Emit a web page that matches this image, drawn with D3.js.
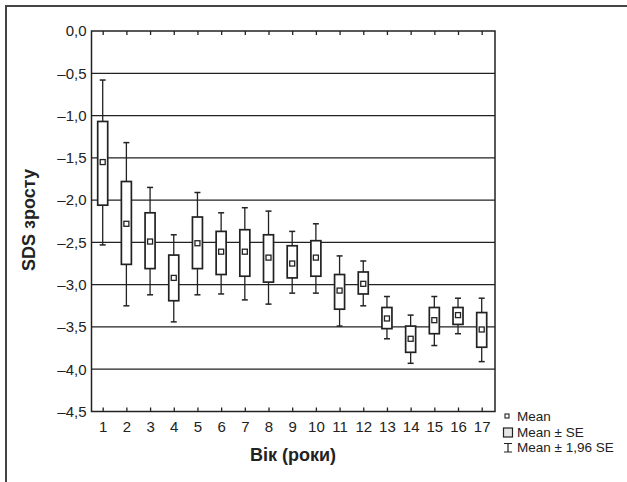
<!DOCTYPE html>
<html>
<head>
<meta charset="utf-8">
<script src="https://cdn.jsdelivr.net/npm/d3@7"></script>
<style>
  body { margin: 0; background: #fff; }
  text { font-family: "Liberation Sans", Arial, sans-serif; fill: #222; }
</style>
</head>
<body>
<div id="chart"></div>
<script>
// Age groups (years)
const ages = [1, 2, 3, 4, 5, 6, 7, 8, 9, 10, 11, 12, 13, 14, 15, 16, 17];
// Mean height SDS
const means = [-1.55, -2.28, -2.49, -2.92, -2.51, -2.61, -2.61, -2.68, -2.75, -2.68, -3.07, -2.99, -3.40, -3.64, -3.42, -3.36, -3.53];
// Mean + SE / Mean - SE
const seHigh = [-1.07, -1.78, -2.15, -2.65, -2.20, -2.37, -2.35, -2.41, -2.54, -2.48, -2.88, -2.85, -3.27, -3.49, -3.27, -3.27, -3.33];
const seLow = [-2.06, -2.76, -2.81, -3.19, -2.81, -2.88, -2.90, -2.97, -2.92, -2.90, -3.29, -3.11, -3.52, -3.80, -3.58, -3.47, -3.74];
// Mean +/- 1.96 SE
const ciHigh = [-0.58, -1.32, -1.85, -2.41, -1.91, -2.15, -2.09, -2.13, -2.37, -2.28, -2.66, -2.72, -3.14, -3.36, -3.14, -3.16, -3.16];
const ciLow = [-2.53, -3.25, -3.12, -3.44, -3.12, -3.11, -3.18, -3.23, -3.10, -3.10, -3.49, -3.25, -3.64, -3.93, -3.72, -3.58, -3.91];
const yTicks = [0, -0.5, -1, -1.5, -2, -2.5, -3, -3.5, -4, -4.5];
const legendLabels = ["Mean", "Mean ± SE", "Mean ± 1,96 SE"];

const data = ages.map((a, i) => ({
  age: a, mean: means[i], seHigh: seHigh[i], seLow: seLow[i], ciHigh: ciHigh[i], ciLow: ciLow[i]
}));

const width = 627, height = 482;
const plot = { left: 91.5, right: 495, top: 31, bottom: 411.5 };
const ink = "#222";

const svg = d3.select("#chart").append("svg")
  .attr("width", width)
  .attr("height", height);

// Outer frame (only top and left edges visible)
svg.append("path")
  .attr("d", `M6,${height + 2}V6H${width + 2}`)
  .attr("fill", "none")
  .attr("stroke", "#444")
  .attr("stroke-width", 2);

const x = d3.scalePoint().domain(ages).range([102.7, 481.7]);
const y = d3.scaleLinear().domain([0, -4.5]).range([plot.top, plot.bottom]);

const fmt = d => (d < 0 ? "\u2013" : "") + Math.abs(d).toFixed(1).replace(".", ",");

// Gridlines
svg.append("g")
  .selectAll("line")
  .data(yTicks.filter(d => d !== 0 && d !== -4.5))
  .enter()
  .append("line")
  .attr("x1", plot.left)
  .attr("x2", plot.right)
  .attr("y1", d => y(d))
  .attr("y2", d => y(d))
  .attr("stroke", ink)
  .attr("stroke-width", 1.3);

// Plot box
svg.append("rect")
  .attr("x", plot.left)
  .attr("y", plot.top)
  .attr("width", plot.right - plot.left)
  .attr("height", plot.bottom - plot.top)
  .attr("fill", "none")
  .attr("stroke", ink)
  .attr("stroke-width", 1.5);

// Y axis labels
const yAxis = svg.append("g")
  .attr("transform", `translate(${plot.left},0)`)
  .call(d3.axisLeft(y).tickValues(yTicks).tickFormat(fmt).tickSize(0).tickPadding(5));
yAxis.select(".domain").remove();
yAxis.selectAll("text").style("font-size", "15px").attr("fill", "#222");

// X axis: ticks inside at bottom and top
const xAxis = svg.append("g")
  .attr("transform", `translate(0,${plot.bottom})`)
  .call(d3.axisBottom(x).tickSize(-4).tickPadding(10));
xAxis.select(".domain").remove();
xAxis.selectAll("line").attr("stroke", ink).attr("stroke-width", 1.3);
xAxis.selectAll("text").style("font-size", "15px").attr("fill", "#222");

const xTop = svg.append("g")
  .attr("transform", `translate(0,${plot.top})`)
  .call(d3.axisTop(x).tickSize(-4).tickFormat(""));
xTop.select(".domain").remove();
xTop.selectAll("line").attr("stroke", ink).attr("stroke-width", 1.3);

// Whiskers
const boxW = 10, capW = 6, markS = 5;
const g = svg.append("g").selectAll("g").data(data).enter().append("g");

g.append("line")
  .attr("x1", d => x(d.age)).attr("x2", d => x(d.age))
  .attr("y1", d => y(d.ciHigh)).attr("y2", d => y(d.ciLow))
  .attr("stroke", ink).attr("stroke-width", 1.3);

g.append("line")
  .attr("x1", d => x(d.age) - capW / 2).attr("x2", d => x(d.age) + capW / 2)
  .attr("y1", d => y(d.ciHigh)).attr("y2", d => y(d.ciHigh))
  .attr("stroke", ink).attr("stroke-width", 1.5);

g.append("line")
  .attr("x1", d => x(d.age) - capW / 2).attr("x2", d => x(d.age) + capW / 2)
  .attr("y1", d => y(d.ciLow)).attr("y2", d => y(d.ciLow))
  .attr("stroke", ink).attr("stroke-width", 1.5);

// SE boxes
g.append("rect")
  .attr("x", d => x(d.age) - boxW / 2)
  .attr("y", d => y(d.seHigh))
  .attr("width", boxW)
  .attr("height", d => y(d.seLow) - y(d.seHigh))
  .attr("fill", "#fff")
  .attr("stroke", ink)
  .attr("stroke-width", 1.7);

// Mean markers
g.append("rect")
  .attr("x", d => x(d.age) - markS / 2)
  .attr("y", d => y(d.mean) - markS / 2)
  .attr("width", markS)
  .attr("height", markS)
  .attr("fill", "#fff")
  .attr("stroke", ink)
  .attr("stroke-width", 1.3);

// Axis titles
svg.append("text")
  .attr("x", 293)
  .attr("y", 461)
  .attr("text-anchor", "middle")
  .style("font-size", "18px")
  .style("font-weight", "bold")
  .text("Вік (роки)");

svg.append("text")
  .attr("transform", "translate(35,220) rotate(-90)")
  .attr("text-anchor", "middle")
  .style("font-size", "18px")
  .style("font-weight", "bold")
  .text("SDS зросту");

// Legend
const lg = svg.append("g").attr("transform", "translate(503,0)");
lg.append("rect").attr("x", 2).attr("y", 414).attr("width", 4).attr("height", 4)
  .attr("fill", "#fff").attr("stroke", ink).attr("stroke-width", 1.1);
lg.append("rect").attr("x", 0.5).attr("y", 428).attr("width", 9).attr("height", 9)
  .attr("fill", "#e6e6e6").attr("stroke", ink).attr("stroke-width", 1.2);
lg.append("path").attr("d", "M1,443.5H9M5,443.5V452M1,452H9")
  .attr("fill", "none").attr("stroke", ink).attr("stroke-width", 1.2);

lg.selectAll("text.leg")
  .data(legendLabels)
  .enter()
  .append("text")
  .attr("class", "leg")
  .attr("x", 14)
  .attr("y", (d, i) => 421 + i * 15.5)
  .style("font-size", "13.5px")
  .text(d => d);
</script>
</body>
</html>
